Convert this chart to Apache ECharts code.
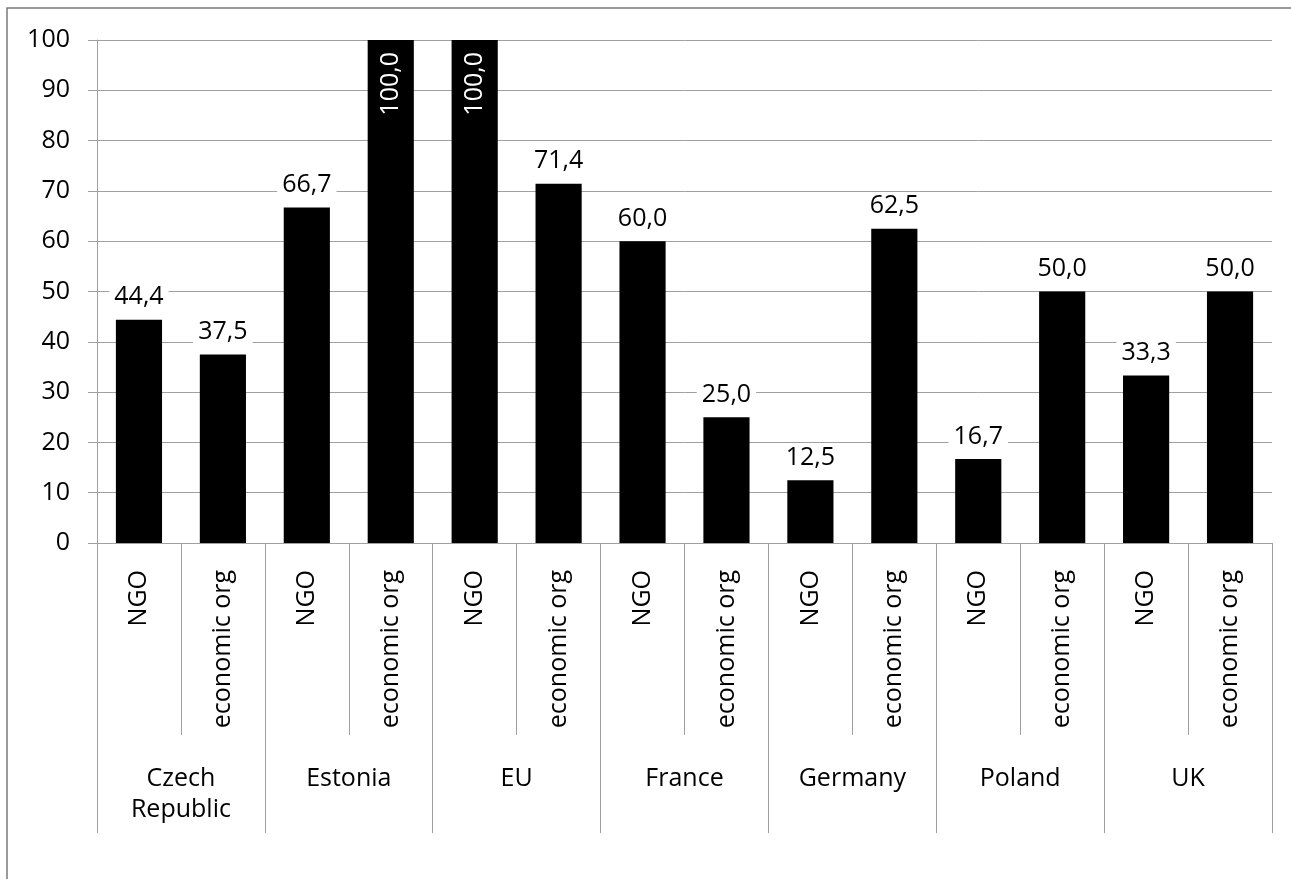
<!DOCTYPE html>
<html>
<head>
<meta charset="utf-8">
<script src="https://cdn.jsdelivr.net/npm/echarts@6/dist/echarts.min.js"></script>
<style>
  html, body { margin: 0; padding: 0; background: #fff; }
  #chart { width: 1291px; height: 879px; }
</style>
</head>
<body>
<div id="chart"></div>
<script>
// Country groups and the two organisation types shown in each group
const countries = ['Czech\nRepublic', 'Estonia', 'EU', 'France', 'Germany', 'Poland', 'UK'];
const orgTypes = ['NGO', 'economic org'];

// Share per country (%)
const ngoValues = [44.4, 66.7, 100.0, 60.0, 12.5, 16.7, 33.3];
const economicValues = [37.5, 100.0, 71.4, 25.0, 62.5, 50.0, 50.0];

// Y axis range
const yMin = 0, yMax = 100, yStep = 10;

const FONT = '"Open Sans", "Noto Sans", sans-serif';
const GRAY = '#a0a0a0';

// Interleave: NGO then economic org for every country
const subCategories = [];
const barValues = [];
countries.forEach((c, i) => {
  subCategories.push(orgTypes[0], orgTypes[1]);
  barValues.push(ngoValues[i], economicValues[i]);
});

const fmt = v => v.toFixed(1).replace('.', ',');

const barData = barValues.map(v => {
  if (v >= yMax) {
    // full-height bars carry their value inside, rotated
    return {
      value: v,
      label: {
        position: 'insideTop',
        distance: 12,
        rotate: 90,
        align: 'right',
        verticalAlign: 'middle',
        color: '#fff',
        backgroundColor: 'transparent',
        padding: 0
      }
    };
  }
  return { value: v };
});

const chart = echarts.init(document.getElementById('chart'), null, { renderer: 'canvas' });

chart.setOption({
  animation: false,
  backgroundColor: '#fff',
  textStyle: { fontFamily: FONT },
  grid: { left: 97, right: 19, top: 40, bottom: 336, containLabel: false },
  graphic: [{
    type: 'rect',
    shape: { x: 7, y: 8, width: 1310, height: 900 },
    style: { fill: 'none', stroke: '#7a7a7a', lineWidth: 1.5 },
    silent: true
  }],
  xAxis: [
    {
      type: 'category',
      data: subCategories,
      position: 'bottom',
      boundaryGap: true,
      axisLine: { show: true, lineStyle: { color: GRAY, width: 1 } },
      axisTick: { show: true, interval: 0, length: 192, lineStyle: { color: GRAY, width: 1 } },
      axisLabel: {
        interval: 0, rotate: 90, margin: 27,
        fontFamily: FONT, fontSize: 25, color: '#000'
      },
      splitLine: { show: false }
    },
    {
      type: 'category',
      data: countries,
      position: 'bottom',
      boundaryGap: true,
      axisLine: { show: false },
      axisTick: { show: true, interval: 0, length: 290, lineStyle: { color: GRAY, width: 1 } },
      axisLabel: {
        interval: 0, margin: 220,
        fontFamily: FONT, fontSize: 25, lineHeight: 31, color: '#000'
      },
      splitLine: { show: false }
    }
  ],
  yAxis: {
    type: 'value',
    min: yMin, max: yMax, interval: yStep,
    axisLine: { show: true, lineStyle: { color: GRAY, width: 1 } },
    axisTick: { show: true, length: 9, lineStyle: { color: GRAY, width: 1 } },
    axisLabel: { margin: 27, fontFamily: FONT, fontSize: 25, color: '#000' },
    splitLine: { show: true, lineStyle: { color: GRAY, width: 1 } }
  },
  series: [{
    type: 'bar',
    xAxisIndex: 0,
    data: barData,
    barWidth: '55%',
    itemStyle: { color: '#000' },
    label: {
      show: true,
      position: 'top',
      distance: 10,
      fontFamily: FONT,
      fontSize: 25,
      color: '#000',
      backgroundColor: '#fff',
      padding: [0, 5],
      formatter: p => fmt(p.value)
    }
  }]
});
</script>
</body>
</html>
